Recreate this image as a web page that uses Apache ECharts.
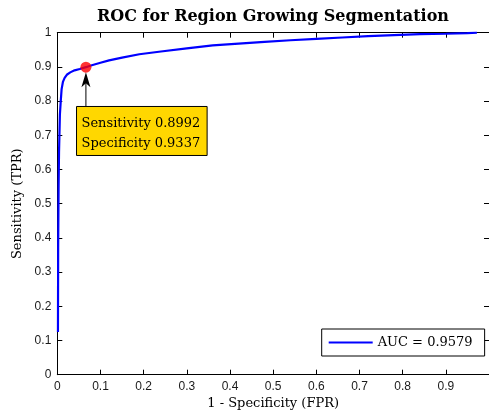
<!DOCTYPE html>
<html><head><meta charset="utf-8">
<script src="https://cdn.jsdelivr.net/npm/echarts@6/dist/echarts.min.js"></script>
<style>html,body{margin:0;padding:0;background:#fff}#c{width:489px;height:416px}</style>
</head><body><div id="c"></div>
<script>
// ROC curve points
var fpr = [0.0015, 0.002, 0.003, 0.004, 0.006, 0.008, 0.010, 0.013, 0.017, 0.022, 0.030, 0.040, 0.052, 0.0663, 0.08, 0.10, 0.12, 0.15, 0.19, 0.24, 0.30, 0.36, 0.42, 0.48, 0.54, 0.60, 0.66, 0.72, 0.78, 0.84, 0.90, 0.95, 0.972];
var tpr = [0.125, 0.37, 0.55, 0.65, 0.76, 0.80, 0.835, 0.856, 0.868, 0.877, 0.884, 0.890, 0.894, 0.8992, 0.905, 0.912, 0.919, 0.927, 0.937, 0.945, 0.954, 0.963, 0.968, 0.973, 0.978, 0.982, 0.986, 0.990, 0.993, 0.996, 0.997, 0.999, 1.0];
var opPoint = [0.0663, 0.8992];
var opLabels = ['Sensitivity 0.8992', 'Specificity 0.9337'];
var legendName = 'AUC = 0.9579';
var titleText = 'ROC for Region Growing Segmentation';
var xName = '1 - Specificity (FPR)';
var yName = 'Sensitivity (TPR)';

var serif = 'DejaVu Serif';
var sans = 'Liberation Sans';
var chart = echarts.init(document.getElementById('c'), null, {renderer: 'canvas'});
var pts = fpr.map(function (x, i) { return [x, tpr[i]]; });
function fmt(v) { return String(+v.toFixed(1)); }
var tickStyle = {show: true, inside: true, length: 5, lineStyle: {color: '#000', width: 1}};
var lineStyle = {show: true, onZero: false, lineStyle: {color: '#000', width: 1}};
var option = {
  animation: false,
  backgroundColor: '#fff',
  title: {
    text: titleText, left: 268, textAlign: 'center', top: 4,
    textStyle: {fontFamily: serif, fontWeight: 'bold', fontSize: 16, color: '#000'}
  },
  grid: {left: 57.3, top: 32.7, right: -2.7, bottom: 41.3, containLabel: false},
  legend: {
    data: [{name: legendName, icon: 'rect'}], left: 321.7, top: 329,
    backgroundColor: '#fff', borderColor: '#000', borderWidth: 1, borderRadius: 0,
    padding: [6, 12, 6, 7], itemWidth: 44, itemHeight: 2,
    textStyle: {fontFamily: serif, fontSize: 13, color: '#000', lineHeight: 15}
  },
  xAxis: [{
    type: 'value', min: 0, max: 1, interval: 0.1, position: 'bottom',
    name: xName, nameLocation: 'middle', nameGap: 20,
    nameTextStyle: {fontFamily: serif, fontSize: 13, color: '#000'},
    axisLine: lineStyle, axisTick: tickStyle, splitLine: {show: false},
    axisLabel: {show: true, margin: 6, showMaxLabel: false, formatter: fmt, fontFamily: sans, fontSize: 12, color: '#1a1a1a'}
  }, {
    type: 'value', min: 0, max: 1, interval: 0.1, position: 'top',
    axisLine: lineStyle, axisTick: tickStyle, splitLine: {show: false}, axisLabel: {show: false}
  }],
  yAxis: [{
    type: 'value', min: 0, max: 1, interval: 0.1, position: 'left',
    name: yName, nameLocation: 'middle', nameGap: 29,
    nameTextStyle: {fontFamily: serif, fontSize: 13, color: '#000'},
    axisLine: lineStyle, axisTick: tickStyle, splitLine: {show: false},
    axisLabel: {show: true, margin: 6, formatter: fmt, fontFamily: sans, fontSize: 12, color: '#1a1a1a'}
  }, {
    type: 'value', min: 0, max: 1, interval: 0.1, position: 'right',
    axisLine: lineStyle, axisTick: tickStyle, splitLine: {show: false}, axisLabel: {show: false}
  }],
  series: [{
    name: legendName, type: 'line', data: pts, symbol: 'none', smooth: false,
    lineStyle: {color: '#0000ff', width: 2.2}, itemStyle: {color: '#0000ff'}, z: 3
  }, {
    name: 'op', type: 'scatter', data: [opPoint], symbol: 'circle', symbolSize: 11,
    itemStyle: {color: '#ff0000'}, z: 4
  }]
};
chart.setOption(option);
var p = chart.convertToPixel({gridIndex: 0}, opPoint);
var x = p[0], y = p[1];
chart.setOption({
  graphic: [
    {type: 'line', shape: {x1: x, y1: y + 15, x2: x, y2: y + 39}, style: {stroke: '#000', lineWidth: 1}, z: 10},
    {type: 'polygon', shape: {points: [[x, y + 5], [x - 4.5, y + 20], [x, y + 16], [x + 4.5, y + 20]]}, style: {fill: '#000'}, z: 10},
    {type: 'rect', shape: {x: x - 9.4, y: y + 39.3, width: 130.6, height: 49}, style: {fill: '#FFD700', stroke: '#000', lineWidth: 1}, z: 10},
    {type: 'text', x: x - 4.4, y: y + 56, style: {text: opLabels[0], font: '13px "DejaVu Serif"', fill: '#000', verticalAlign: 'middle'}, z: 11},
    {type: 'text', x: x - 4.4, y: y + 76, style: {text: opLabels[1], font: '13px "DejaVu Serif"', fill: '#000', verticalAlign: 'middle'}, z: 11}
  ]
});
</script></body></html>
